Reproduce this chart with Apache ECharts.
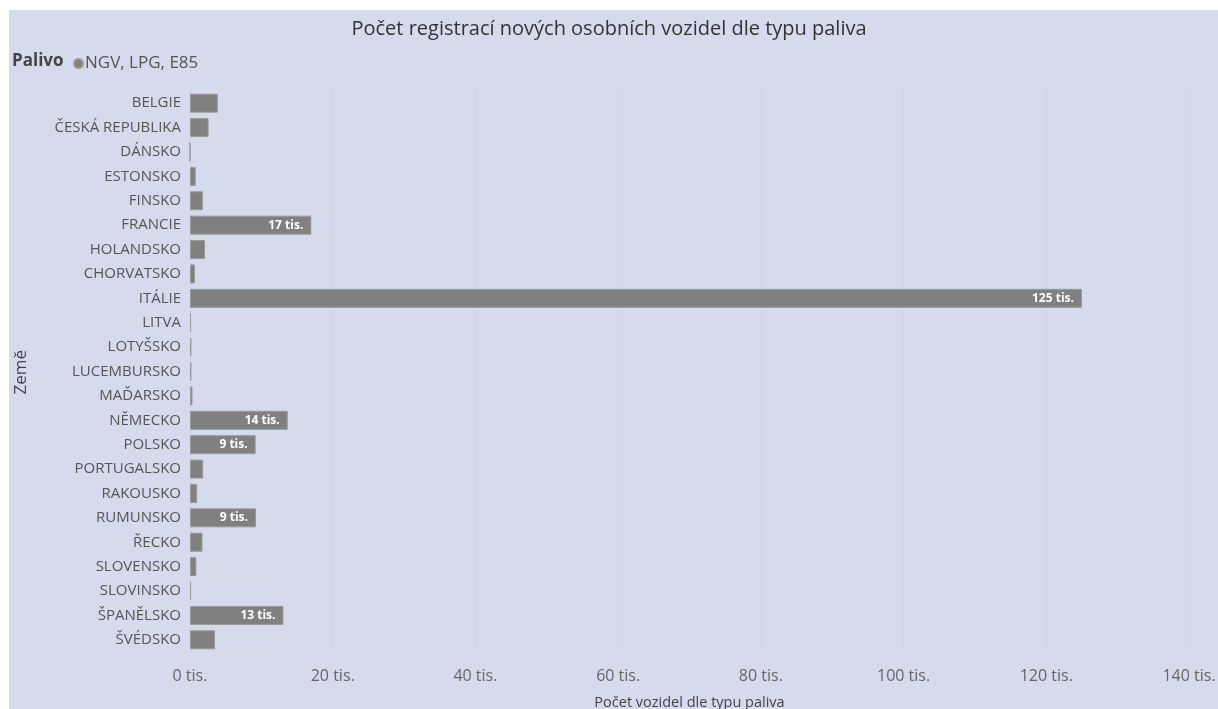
<!DOCTYPE html>
<html>
<head>
<meta charset="utf-8">
<script src="https://cdn.jsdelivr.net/npm/echarts@6/dist/echarts.min.js"></script>
<style>
  html, body { margin: 0; padding: 0; background: #fff; }
  #chart { width: 1218px; height: 709px; }
</style>
</head>
<body>
<div id="chart"></div>
<script>
// země a počty registrací (NGV, LPG, E85)
var zeme = ['BELGIE', 'ČESKÁ REPUBLIKA', 'DÁNSKO', 'ESTONSKO', 'FINSKO', 'FRANCIE', 'HOLANDSKO',
  'CHORVATSKO', 'ITÁLIE', 'LITVA', 'LOTYŠSKO', 'LUCEMBURSKO', 'MAĎARSKO', 'NĚMECKO', 'POLSKO',
  'PORTUGALSKO', 'RAKOUSKO', 'RUMUNSKO', 'ŘECKO', 'SLOVENSKO', 'SLOVINSKO', 'ŠPANĚLSKO', 'ŠVÉDSKO'];
var pocty = [3900, 2600, 0, 800, 1800, 17000, 2100,
  700, 125000, 150, 200, 200, 350, 13700, 9200,
  1850, 1000, 9250, 1750, 900, 150, 13100, 3500];
var xTicks = [0, 20000, 40000, 60000, 80000, 100000, 120000, 140000];

var font = '"Open Sans", "Noto Sans", sans-serif';
var chart = echarts.init(document.getElementById('chart'));
chart.setOption({
  backgroundColor: '#fff',
  animation: false,
  textStyle: { fontFamily: font },
  graphic: [
    { type: 'rect', z: -10, shape: { x: 9, y: 10, width: 1209, height: 699 }, style: { fill: '#d5dbec' } },
    { type: 'text', left: 12, top: 53, style: { text: 'Palivo', font: 'bold 17px ' + font, fill: '#444' } },
    { type: 'text', left: 13, top: 350, rotation: Math.PI / 2,
      style: { text: 'Země', font: '17px ' + font, fill: '#444' } }
  ],
  title: {
    text: 'Počet registrací nových osobních vozidel dle typu paliva',
    left: 'center', top: 14,
    textStyle: { fontFamily: font, fontSize: 20, fontWeight: 'normal', color: '#333' }
  },
  legend: {
    left: 68, top: 50, icon: 'circle', itemWidth: 9, itemHeight: 9, itemGap: 4,
    textStyle: { fontFamily: font, fontSize: 17, color: '#555', padding: [0, 0, 0, -3] },
    data: ['NGV, LPG, E85']
  },
  grid: { left: 190, right: 29, top: 91, bottom: 57, containLabel: false, outerBoundsMode: 'none' },
  xAxis: {
    type: 'value', min: 0, max: 140000, interval: 20000,
    name: 'Počet vozidel dle typu paliva', nameLocation: 'middle', nameGap: 43,
    nameTextStyle: { fontFamily: font, fontSize: 14.5, color: '#444' },
    axisLine: { show: false }, axisTick: { show: false },
    axisLabel: {
      fontFamily: font, fontSize: 16, color: '#666', margin: 16,
      formatter: function (v) { return xTicks.indexOf(v) >= 0 ? (v / 1000) + ' tis.' : ''; }
    },
    splitLine: { lineStyle: { color: '#bcc3d6', type: [1, 3], width: 1 } }
  },
  yAxis: {
    type: 'category', inverse: true, data: zeme,
    axisLine: { show: false }, axisTick: { show: false },
    axisLabel: { fontFamily: font, fontSize: 15, color: '#555', margin: 9 }
  },
  series: [{
    name: 'NGV, LPG, E85', type: 'bar', data: pocty, barWidth: 19,
    itemStyle: { color: '#808080', borderColor: '#9a9a9a', borderWidth: 1 },
    label: {
      show: true, position: 'insideRight', distance: 8,
      fontFamily: font, fontSize: 12, fontWeight: 'bold', color: '#fff',
      formatter: function (p) { return p.value >= 5000 ? Math.round(p.value / 1000) + ' tis.' : ''; }
    }
  }]
});
</script>
</body>
</html>
